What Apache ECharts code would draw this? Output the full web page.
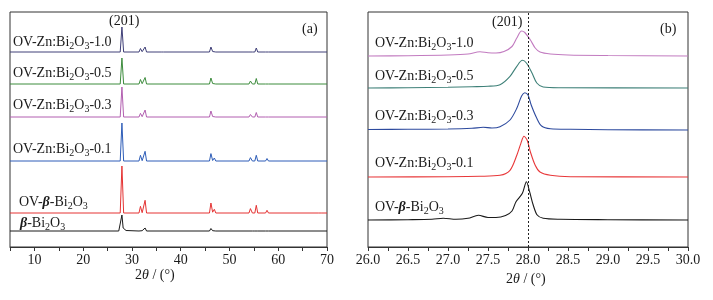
<!DOCTYPE html>
<html><head><meta charset="utf-8">
<script src="https://cdn.jsdelivr.net/npm/echarts@6/dist/echarts.min.js"></script>
<style>html,body{margin:0;padding:0;background:#fff}#c{width:713px;height:300px}</style>
</head><body><div id="c"></div>
<script>
// ---------- Panel (a): full XRD patterns, [2theta, intensity above own baseline] ----------
const namesA = ['OV-Zn:Bi2O3-1.0','OV-Zn:Bi2O3-0.5','OV-Zn:Bi2O3-0.3','OV-Zn:Bi2O3-0.1','OV-β-Bi2O3','β-Bi2O3'];
const offsetsA = [195, 163, 130, 86, 34, 16];
const a_10 = [[5,0],[27.6,0],[27.95,25],[28.3,0],[31.45,0],[31.75,3.5],[32.1,0.3],[32.4,0.3],[32.7,5],[33.0,0],[36.0,0],[36.2,1],[36.5,0],[45.9,0],[46.2,5],[46.55,0.5],[46.9,2],[47.2,0],[54.0,0],[54.3,2],[54.7,0],[55.2,0],[55.5,4],[55.8,0],[57.4,0],[57.7,1.5],[58.0,0],[70,0]];
const a_05 = [[5,0],[27.6,0],[27.95,26],[28.3,0],[31.45,0],[31.75,4.5],[32.1,0.3],[32.4,0.3],[32.7,6.5],[33.0,0],[45.9,0],[46.2,6],[46.55,0.5],[46.9,2.5],[47.2,0],[54.0,0],[54.3,3],[54.7,0],[55.2,0],[55.5,5.5],[55.8,0],[57.4,0],[57.7,2],[58.0,0],[70,0]];
const a_03 = [[5,0],[27.6,0],[27.95,30],[28.3,0],[31.45,0],[31.75,3.7],[32.1,0.3],[32.4,0.3],[32.7,7],[33.0,0],[45.9,0],[46.2,6],[46.55,0.5],[46.9,2.5],[47.2,0],[54.0,0],[54.3,2.5],[54.7,0],[55.2,0],[55.5,4.5],[55.8,0],[57.4,0],[57.7,1.5],[58.0,0],[70,0]];
const a_01 = [[5,0],[27.6,0],[27.95,38],[28.3,0],[31.45,0],[31.75,5.7],[32.1,0.3],[32.4,0.3],[32.7,9.7],[33.0,0],[45.9,0],[46.2,7.4],[46.55,0.5],[46.9,3],[47.2,0],[54.0,0],[54.3,3.4],[54.7,0],[55.2,0],[55.5,5.7],[55.8,0],[57.4,0],[57.7,2.5],[58.0,0],[70,0]];
const a_ovb = [[5,0],[27.6,0],[27.95,47],[28.3,0],[31.45,0],[31.75,6.7],[32.1,0.3],[32.4,0.3],[32.7,12.7],[33.0,0],[45.9,0],[46.2,10],[46.55,0.8],[46.9,3.7],[47.2,0],[54.0,0],[54.3,4.4],[54.7,0],[55.2,0],[55.5,7.7],[55.8,0],[57.4,0],[57.7,2.7],[58.0,0],[68.2,0],[68.5,1],[68.8,0],[70,0]];
const a_b = [[5,0],[27.3,0],[27.7,2],[27.95,16],[28.2,3],[28.8,0.5],[31.45,0],[31.75,1.5],[32.1,0.3],[32.4,0.3],[32.7,3],[33.0,0],[45.9,0],[46.2,2.5],[46.55,0.3],[46.9,1],[47.2,0],[54.0,0],[54.3,1.5],[54.7,0],[55.2,0],[55.5,2],[55.8,0],[57.4,0],[57.7,1],[58.0,0],[70,0]];
const dataA = [a_10, a_05, a_03, a_01, a_ovb, a_b];
const colorsA = ['#404078','#3d8c3d','#b25fb0','#2e5db8','#e53333','#1a1a1a'];

// ---------- Panel (b): (201) reflection zoom ----------
const namesB = ['OV-Zn:Bi2O3-1.0','OV-Zn:Bi2O3-0.5','OV-Zn:Bi2O3-0.3','OV-Zn:Bi2O3-0.1','OV-β-Bi2O3'];
const offsetsB = [191, 159, 117, 70, 27];
const b_10 = [[26.0,0],[26.5,0.3],[27.0,1],[27.25,2],[27.4,4.3],[27.5,3.3],[27.6,3],[27.7,4.5],[27.8,9.5],[27.86,18],[27.92,25],[27.96,23.5],[28.03,16],[28.09,8],[28.15,4],[28.28,2],[28.5,1],[29.0,0.5],[30.0,0]];
const b_05 = [[26.0,0],[26.5,0.3],[27.0,0.7],[27.3,1.3],[27.5,1.7],[27.65,3.3],[27.775,11.7],[27.86,21.7],[27.93,27.7],[27.98,25],[28.05,15],[28.11,5],[28.19,1],[28.4,0.3],[30.0,0]];
const b_03 = [[26.0,0.5],[26.5,0.7],[27.0,1],[27.3,1.7],[27.44,2.7],[27.55,2],[27.65,3.3],[27.775,10],[27.86,21.7],[27.92,34],[27.96,37.3],[28.0,35],[28.04,25],[28.11,11.7],[28.17,4],[28.28,1.3],[28.53,0.7],[29.0,0.3],[30.0,0]];
const b_01 = [[26.0,0],[27.0,0.3],[27.4,0.7],[27.65,1.7],[27.775,6.7],[27.86,21.7],[27.91,33.4],[27.95,40.7],[27.99,36.7],[28.03,25],[28.09,11.7],[28.15,5],[28.28,1.7],[28.53,0.3],[30.0,0]];
const b_ovb = [[26.0,0],[26.5,0.3],[26.8,0.7],[26.94,1.7],[27.1,0.7],[27.25,1.7],[27.38,4.7],[27.5,2.5],[27.6,2.5],[27.72,4.5],[27.8,9],[27.85,18.3],[27.93,26.7],[27.98,38.3],[28.02,28.3],[28.065,15],[28.115,5],[28.19,1.7],[28.4,0.7],[29.0,0.3],[30.0,0]];
const dataB = [b_10, b_05, b_03, b_01, b_ovb];
const colorsB = ['#c27bc0','#3e8078','#2d4a9e','#e8383a','#1a1a1a'];
const refLine201 = 28.0;

// tick labels
const ticksA = [10,20,30,40,50,60,70];
const ticksB = [26.0,26.5,27.0,27.5,28.0,28.5,29.0,29.5,30.0];

// ---------- build ----------
const FONT = '"Liberation Serif","Times New Roman",serif';
const rich = {
  n: {fontFamily: FONT, fontSize: 14, lineHeight: 18, color: '#1a1a1a'},
  s: {fontFamily: FONT, fontSize: 10, lineHeight: 10, verticalAlign: 'bottom', color: '#1a1a1a'},
  b: {fontFamily: FONT, fontSize: 14, lineHeight: 18, fontStyle: 'italic', fontWeight: 'bold', color: '#1a1a1a'},
  i: {fontFamily: FONT, fontSize: 14, lineHeight: 18, fontStyle: 'italic', color: '#1a1a1a'}
};
function richName(name){
  // convert e.g. 'OV-Zn:Bi2O3-1.0' to rich text with subscripts and bold-italic beta
  let out = '';
  const m = name.match(/^(.*?)Bi2O3(.*)$/);
  const pre = m[1], post = m[2];
  const parts = pre.split('β');
  parts.forEach((p, k) => { if (p) out += '{n|' + p + '}'; if (k < parts.length - 1) out += '{b|β}'; });
  out += '{n|Bi}{s|2}{n|O}{s|3}';
  if (post) out += '{n|' + post + '}';
  return out;
}
function txt(x, y, text, align){
  return {type: 'text', x: x, y: y, z: 100, style: {text: text, rich: rich, align: align || 'left', verticalAlign: 'middle', font: '14px ' + FONT, fill: '#1a1a1a'}};
}

const series = [];
dataA.forEach((d, k) => series.push({
  type: 'line', xAxisIndex: 0, yAxisIndex: 0, showSymbol: false, symbol: 'none', smooth: false,
  lineStyle: {width: 1, color: colorsA[k]}, data: d.map(p => [p[0], p[1] + offsetsA[k]]), z: 10 - k
}));
dataB.forEach((d, k) => {
  const s = {
    type: 'line', xAxisIndex: 1, yAxisIndex: 1, showSymbol: false, symbol: 'none', smooth: 0.3,
    lineStyle: {width: 1.1, color: colorsB[k]}, data: d.map(p => [p[0], p[1] + offsetsB[k]])
  };
  if (k === 0) s.markLine = {silent: true, symbol: 'none', label: {show: false},
    lineStyle: {type: [2, 2], color: '#222', width: 1}, data: [{xAxis: refLine201}]};
  series.push(s);
});

function axisCommon(){
  return {
    type: 'value', splitLine: {show: false},
    axisLine: {show: true, onZero: false, lineStyle: {color: '#333', width: 1}},
    axisTick: {show: true, inside: false, length: 4, lineStyle: {color: '#333'}},
    axisLabel: {fontFamily: FONT, fontSize: 14, color: '#1a1a1a', margin: 6, showMinLabel: true, showMaxLabel: true}
  };
}
const xA = axisCommon();
Object.assign(xA, {gridIndex: 0, min: 5, max: 70, interval: 5});
xA.axisLabel.formatter = v => ticksA.includes(v) ? String(v) : '';
const xB = axisCommon();
Object.assign(xB, {gridIndex: 1, min: 26, max: 30, interval: 0.25});
xB.axisLabel.formatter = v => { const t = ticksB.find(q => Math.abs(q - v) < 1e-6); return t === undefined ? '' : t.toFixed(1); };

const option = {
  animation: false,
  backgroundColor: '#fff',
  grid: [
    {left: 10, top: 12, width: 317, height: 235, show: true, borderColor: '#333', borderWidth: 1},
    {left: 368, top: 12, width: 320, height: 235, show: true, borderColor: '#333', borderWidth: 1}
  ],
  xAxis: [xA, xB],
  yAxis: [
    {type: 'value', gridIndex: 0, min: 0, max: 235, show: false},
    {type: 'value', gridIndex: 1, min: 0, max: 235, show: false}
  ],
  series: series,
  graphic: [
    txt(13, 42, richName(namesA[0])),
    txt(13, 73, richName(namesA[1])),
    txt(13, 105, richName(namesA[2])),
    txt(13, 149, richName(namesA[3])),
    txt(19, 202, richName(namesA[4])),
    txt(20, 223, richName(namesA[5])),
    txt(375, 43, richName(namesB[0])),
    txt(375, 76, richName(namesB[1])),
    txt(375, 116, richName(namesB[2])),
    txt(375, 163, richName(namesB[3])),
    txt(375, 207, richName(namesB[4])),
    txt(109, 21, '{n|(201)}'),
    txt(492, 22, '{n|(201)}'),
    txt(302, 29, '{n|(a)}'),
    txt(660, 29, '{n|(b)}'),
    txt(135, 275, '{n|2}{i|θ}{n| / (°)}'),
    txt(506, 279, '{n|2}{i|θ}{n| / (°)}')
  ]
};
const chart = echarts.init(document.getElementById('c'), null, {renderer: 'canvas'});
chart.setOption(option);
</script></body></html>
